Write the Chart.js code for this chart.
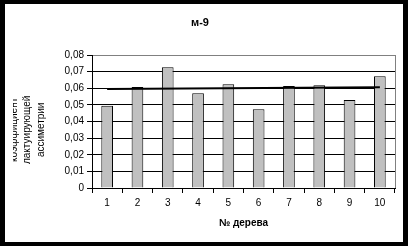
<!DOCTYPE html>
<html>
<head>
<meta charset="utf-8">
<script src="https://cdn.jsdelivr.net/npm/chart.js@4.4.1/dist/chart.umd.min.js"></script>
<style>
  html, body { margin: 0; padding: 0; background: #000; }
  body { width: 408px; height: 246px; position: relative; overflow: hidden; }
  #frame { position: absolute; left: 5px; top: 4px; width: 398px; height: 238px; background: #fff; }
  #clip { position: absolute; left: 8px; top: 0; width: 390px; height: 238px; overflow: hidden; }
  #wrap { position: absolute; left: -8px; top: 0; width: 398px; height: 238px; }
  canvas { display: block; }
</style>
</head>
<body>
<div id="frame"><div id="clip"><div id="wrap"><canvas id="chart" width="398" height="238"></canvas></div></div></div>
<script>
// data
const treeNumbers = ["1", "2", "3", "4", "5", "6", "7", "8", "9", "10"];
const asymmetry = [0.0494, 0.0607, 0.0726, 0.0570, 0.0624, 0.0474, 0.0614, 0.0618, 0.0530, 0.0672];
const trendLine = [0.0596, null, null, null, null, null, null, null, null, 0.0606];
const yTickLabels = ["0", "0,01", "0,02", "0,03", "0,04", "0,05", "0,06", "0,07", "0,08"];

const FONT = "'Liberation Sans', Arial, sans-serif";

// gray frame on the right side of the plot area
const plotBorder = {
  id: "plotBorder",
  afterDatasetsDraw(chart) {
    const { ctx, chartArea } = chart;
    ctx.save();
    ctx.strokeStyle = "#808080";
    ctx.lineWidth = 1;
    ctx.beginPath();
    ctx.moveTo(Math.round(chartArea.right) + 0.5, chartArea.top);
    ctx.lineTo(Math.round(chartArea.right) + 0.5, chartArea.bottom);
    ctx.stroke();
    ctx.restore();
  },
};

new Chart(document.getElementById("chart"), {
  type: "bar",
  data: {
    labels: treeNumbers,
    datasets: [
      {
        type: "line",
        data: trendLine,
        spanGaps: true,
        borderColor: "#000",
        borderWidth: 2,
        pointRadius: 0,
        order: 0,
      },
      {
        data: asymmetry,
        backgroundColor: "#c0c0c0",
        borderColor: "#000",
        borderWidth: 1,
        barPercentage: 0.385,
        categoryPercentage: 1,
        order: 1,
      },
    ],
  },
  options: {
    responsive: false,
    maintainAspectRatio: false,
    animation: false,
    devicePixelRatio: 1,
    layout: { padding: { left: 0, right: 8, top: 0, bottom: 0 } },
    plugins: {
      legend: { display: false },
      tooltip: { enabled: false },
      title: {
        display: true,
        text: "м-9",
        color: "#000",
        font: { family: FONT, size: 11, weight: "bold", lineHeight: 1.2 },
        padding: { top: 12.4, bottom: 25.4 },
      },
    },
    scales: {
      x: {
        offset: true,
        grid: { display: true, drawOnChartArea: false, drawTicks: true, tickLength: 5, tickColor: "#000", offset: true },
        border: { color: "#000", width: 1 },
        ticks: { color: "#000", font: { family: FONT, size: 10 }, padding: 4, maxRotation: 0 },
        title: {
          display: true,
          text: "№ дерева",
          color: "#000",
          font: { family: FONT, size: 10, weight: "bold", lineHeight: 1.2 },
          padding: { top: 0, bottom: 13 },
        },
        afterFit(scale) { scale.height = 54; },
      },
      y: {
        min: 0,
        max: 0.08,
        grid: {
          color: (ctx) => (ctx.index === yTickLabels.length - 1 ? "#808080" : "#000"),
          tickColor: "#000",
          tickLength: 5,
          lineWidth: 1,
        },
        border: { color: "#000", width: 1 },
        ticks: {
          stepSize: 0.01,
          color: "#000",
          padding: 3,
          font: { family: FONT, size: 10 },
          callback: (v, i) => yTickLabels[i],
        },
        title: {
          display: true,
          text: ["коэффициент\u00a0\u00a0\u00a0\u00a0\u00a0\u00a0", "лактуирующей\u00a0\u00a0\u00a0\u00a0\u00a0\u00a0", "ассиметрии\u00a0\u00a0\u00a0\u00a0\u00a0\u00a0"],
          color: "#000",
          font: { family: FONT, size: 10, lineHeight: 1.35 },
          padding: { top: 2.25, bottom: 0 },
        },
        afterFit(scale) { scale.width = 87; },
      },
    },
  },
  plugins: [plotBorder],
});
</script>
</body>
</html>
